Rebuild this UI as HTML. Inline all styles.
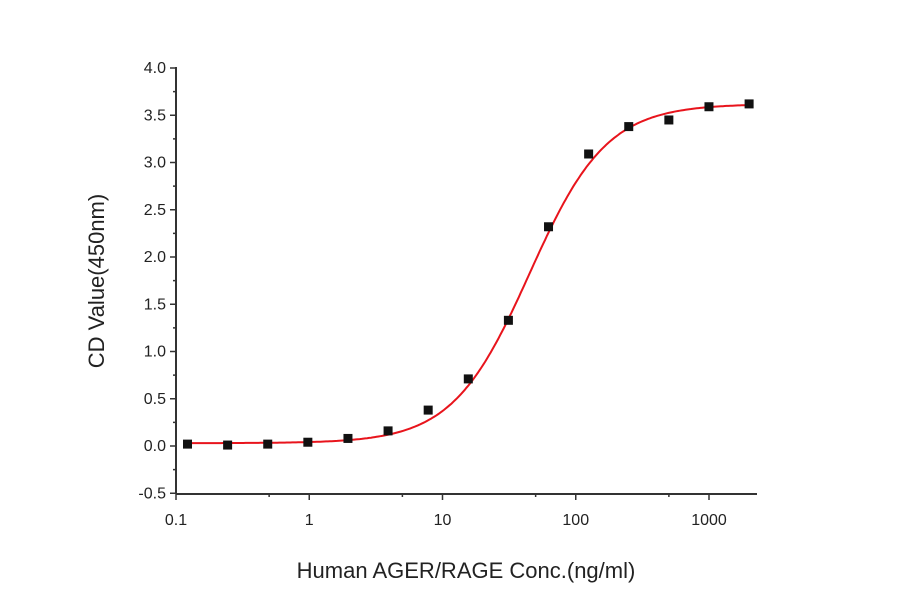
<!DOCTYPE html>
<html><head><style>body{margin:0;background:#fff}</style></head><body>
<svg width="900" height="594" xmlns="http://www.w3.org/2000/svg" font-family="Liberation Sans, sans-serif">
<rect width="900" height="594" fill="#fff"/>
<g stroke="#333" stroke-width="2" fill="none">
<line x1="176" y1="67" x2="176" y2="494"/>
<line x1="176" y1="494" x2="757" y2="494"/>
</g>
<g id="yt" stroke="#333" stroke-width="1.5"></g>
<g id="xt" stroke="#333" stroke-width="1.5"></g>
<g id="yl" font-size="16" fill="#222" text-anchor="end"></g>
<g id="xl" font-size="16" fill="#222" text-anchor="middle"></g>
<path id="curve" fill="none" stroke="#e8141c" stroke-width="2"/>
<g id="pts" fill="#111"></g>
<text x="104" y="281" font-size="22" fill="#222" text-anchor="middle" transform="rotate(-90 104 281)">CD Value(450nm)</text>
<text x="466" y="578" font-size="22" fill="#222" text-anchor="middle">Human AGER/RAGE Conc.(ng/ml)</text>
<script>
var ns="http://www.w3.org/2000/svg";
function el(p,t,a,txt){var e=document.createElementNS(ns,t);for(var k in a)e.setAttribute(k,a[k]);if(txt)e.textContent=txt;document.getElementById(p).appendChild(e);}
function X(v){return 176+133.25*(Math.log10(v)+1);}
function Y(v){return 446-94.5*v;}
for(var i=0;i<=18;i++){var v=-0.5+i*0.25,y=Y(v),maj=i%2==0;el("yt","line",{x1:176,x2:maj?170:173,y1:y,y2:y});if(maj)el("yl","text",{x:166,y:y+5},v.toFixed(1));}
var labs=["0.1","1","10","100","1000"];
for(var d=0;d<5;d++){var x=X(Math.pow(10,d-1));el("xt","line",{x1:x,x2:x,y1:494,y2:500});el("xl","text",{x:x,y:525},labs[d]);
 var xm=X(5*Math.pow(10,d-1));if(xm<757)el("xt","line",{x1:xm,x2:xm,y1:494,y2:497});}
var p="";for(var i=0;i<=300;i++){var lx=Math.log10(0.122)+i*(Math.log10(2000)-Math.log10(0.122))/300,c=Math.pow(10,lx);var v=0.03+3.59/(1+Math.pow(45/c,1.5));p+=(i?"L":"M")+X(c).toFixed(1)+" "+Y(v).toFixed(1);}
document.getElementById("curve").setAttribute("d",p);
var vals=[0.02,0.01,0.02,0.04,0.08,0.16,0.38,0.71,1.33,2.32,3.09,3.38,3.45,3.59,3.62];
for(var i=0;i<15;i++){var c=0.122*Math.pow(2,i);if(i==14)c=2000;el("pts","rect",{x:X(c)-4.5,y:Y(vals[i])-4.5,width:9,height:9});}
</script>
</svg>
</body></html>
